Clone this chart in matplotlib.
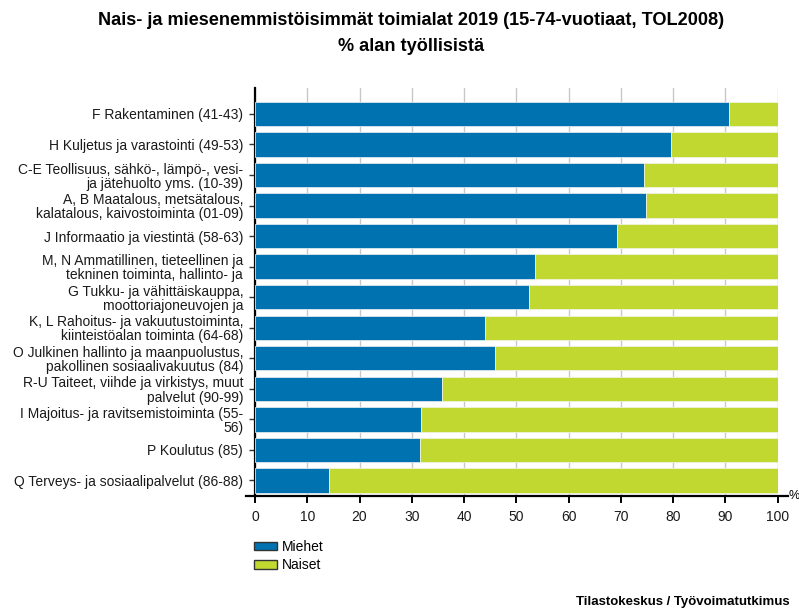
import matplotlib
matplotlib.use("Agg")
import matplotlib.pyplot as plt
import numpy as np
from matplotlib.lines import Line2D
from matplotlib.patches import Patch

plt.rcParams['font.family'] = ['Liberation Sans', 'DejaVu Sans']

categories = [
    "F Rakentaminen (41-43)",
    "H Kuljetus ja varastointi (49-53)",
    "C-E Teollisuus, sähkö-, lämpö-, vesi-\nja jätehuolto yms. (10-39)",
    "A, B Maatalous, metsätalous,\nkalatalous, kaivostoiminta (01-09)",
    "J Informaatio ja viestintä (58-63)",
    "M, N Ammatillinen, tieteellinen ja\ntekninen toiminta, hallinto- ja",
    "G Tukku- ja vähittäiskauppa,\nmoottoriajoneuvojen ja",
    "K, L Rahoitus- ja vakuutustoiminta,\nkiinteistöalan toiminta (64-68)",
    "O Julkinen hallinto ja maanpuolustus,\npakollinen sosiaalivakuutus (84)",
    "R-U Taiteet, viihde ja virkistys, muut\npalvelut (90-99)",
    "I Majoitus- ja ravitsemistoiminta (55-\n56)",
    "P Koulutus (85)",
    "Q Terveys- ja sosiaalipalvelut (86-88)",
]
miehet = [90.7, 79.7, 74.5, 74.9, 69.3, 53.6, 52.5, 44.0, 46.0, 35.8, 31.7, 31.5, 14.2]
naiset = [100 - v for v in miehet]
series_names = ["Miehet", "Naiset"]
xticks = [0, 10, 20, 30, 40, 50, 60, 70, 80, 90, 100]
title_lines = ["Nais- ja miesenemmistöisimmät toimialat 2019 (15-74-vuotiaat, TOL2008)",
               "% alan työllisistä"]
source = "Tilastokeskus / Työvoimatutkimus"

blue = "#0072B0"
green = "#C0D830"

fig = plt.figure(figsize=(7.99, 6.10), dpi=100)
ax = fig.add_axes([255/799, 114/610, 522.5/799, 408/610])

y = np.arange(len(categories))
ax.barh(y, miehet, height=0.8, color=blue, edgecolor="#dce6ee", linewidth=0.6, zorder=3)
ax.barh(y, naiset, left=miehet, height=0.8, color=green, edgecolor="#eef2dc", linewidth=0.6, zorder=3)

ax.set_xlim(0, 100)
ax.set_ylim(12.51, -0.85)
ax.set_yticks(y)
ax.set_yticklabels(categories, fontsize=10, linespacing=1.02, color="#1a1a1a")
ax.set_xticks(xticks)
ax.set_xticklabels([str(t) for t in xticks], fontsize=10, color="#1a1a1a")
ax.xaxis.grid(True, color="#c8c8c8", linewidth=1.0, zorder=0)
ax.set_axisbelow(True)

for s in ["top", "right", "bottom"]:
    ax.spines[s].set_visible(False)
ax.spines["left"].set_linewidth(1.6)
ax.spines["left"].set_color("black")

ax.tick_params(axis="y", length=4.5, width=1.0, pad=4, color="#333333")
ax.tick_params(axis="x", length=5, width=1.4, pad=5, color="black")

# bottom axis line extending beyond the plot area
ax.add_line(Line2D([-0.018, 1.02], [0, 0], transform=ax.transAxes, color="black",
                   linewidth=1.6, clip_on=False, zorder=5))
ax.text(1.021, 0.0, "%", transform=ax.transAxes, fontsize=9, ha="left", va="center")

fig.text(411/799, 1 - 20.5/610, title_lines[0], ha="center", va="center",
         fontsize=13.1, fontweight="bold")
fig.text(411/799, 1 - 46.5/610, title_lines[1], ha="center", va="center",
         fontsize=13.1, fontweight="bold")

handles = [Patch(facecolor=blue, edgecolor="#333333", linewidth=1.0),
           Patch(facecolor=green, edgecolor="#333333", linewidth=1.0)]
fig.legend(handles, series_names, loc="upper left", bbox_to_anchor=(254/799, 1 - 540/610),
           frameon=False, fontsize=10, handlelength=1.65, handleheight=0.58,
           handletextpad=0.35, labelspacing=0.3, borderaxespad=0, borderpad=0)

fig.text(790/799, 1 - 602/610, source, ha="right", va="center", fontsize=9.5, fontweight="bold")

fig.savefig("out.png", dpi=100)
